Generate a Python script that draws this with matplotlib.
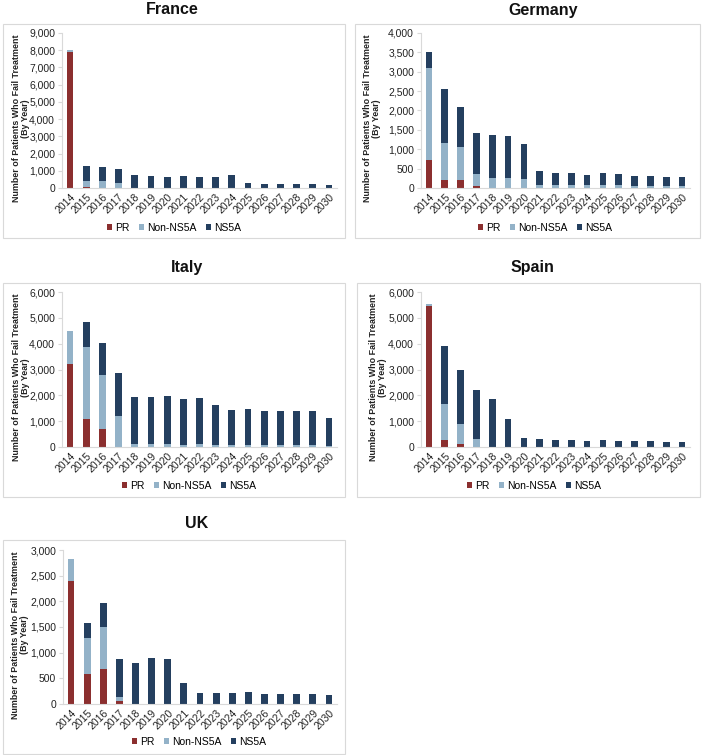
import matplotlib
matplotlib.use("Agg")
import matplotlib.pyplot as plt
from matplotlib.patches import Rectangle
from matplotlib.ticker import FuncFormatter, MultipleLocator

plt.rcParams['font.family'] = ['Liberation Sans', 'DejaVu Sans']

years = [str(y) for y in range(2014, 2031)]
series_names = ["PR", "Non-NS5A", "NS5A"]
colors = ["#8B2F2F", "#93B2C8", "#243F5F"]

france_pr = [7900, 50, 0, 0, 0, 0, 0, 0, 0, 0, 0, 0, 0, 0, 0, 0, 0]
france_non = [100, 350, 380, 270, 20, 20, 20, 20, 20, 20, 20, 10, 10, 10, 10, 10, 10]
france_ns5a = [0, 900, 850, 810, 760, 700, 640, 650, 620, 640, 720, 260, 240, 240, 200, 200, 190]

germany_pr = [730, 200, 210, 40, 0, 0, 0, 0, 0, 0, 0, 0, 0, 0, 0, 0, 0]
germany_non = [2370, 950, 850, 330, 270, 270, 240, 80, 80, 80, 70, 80, 70, 60, 60, 50, 50]
germany_ns5a = [400, 1400, 1030, 1050, 1090, 1060, 900, 350, 300, 300, 270, 300, 290, 260, 250, 240, 240]

italy_pr = [3200, 1080, 700, 0, 0, 0, 0, 0, 0, 0, 0, 0, 0, 0, 0, 0, 0]
italy_non = [1300, 2780, 2100, 1190, 100, 130, 100, 90, 100, 70, 60, 60, 60, 70, 60, 60, 50]
italy_ns5a = [0, 970, 1220, 1690, 1830, 1790, 1860, 1780, 1810, 1540, 1360, 1420, 1320, 1320, 1330, 1330, 1080]

spain_pr = [5450, 260, 100, 0, 0, 0, 0, 0, 0, 0, 0, 0, 0, 0, 0, 0, 0]
spain_non = [100, 1400, 780, 320, 0, 0, 0, 0, 0, 0, 0, 0, 0, 0, 0, 0, 0]
spain_ns5a = [0, 2250, 2090, 1900, 1840, 1100, 360, 320, 270, 270, 250, 270, 240, 230, 230, 210, 200]

uk_pr = [2400, 580, 680, 60, 0, 0, 0, 0, 0, 0, 0, 0, 0, 0, 0, 0, 0]
uk_non = [420, 700, 820, 80, 0, 0, 0, 0, 0, 0, 0, 0, 0, 0, 0, 0, 0]
uk_ns5a = [0, 290, 460, 730, 790, 890, 870, 410, 220, 210, 210, 230, 200, 190, 190, 190, 170]

W, H = 703, 755
fig = plt.figure(figsize=(W / 100, H / 100), dpi=100)

panels = [
    # name, data, ymax, ystep, axes px (l, r, top, bottom), box px (l, r, top, bottom),
    # title (x, y), legend y, ylabel right edge x
    ("France", (france_pr, france_non, france_ns5a), 9000, 1000, (62, 337, 33, 188), (3, 345, 24, 238), (172, 10), 228, 30),
    ("Germany", (germany_pr, germany_non, germany_ns5a), 4000, 500, (421, 690, 33, 188), (355, 700, 24, 238), (543, 10), 228, 381),
    ("Italy", (italy_pr, italy_non, italy_ns5a), 6000, 1000, (62, 337, 292, 447), (3, 345, 283, 497), (187, 268), 486, 30),
    ("Spain", (spain_pr, spain_non, spain_ns5a), 6000, 1000, (421, 690, 292, 447), (357, 700, 283, 497), (532, 268), 486, 387),
    ("UK", (uk_pr, uk_non, uk_ns5a), 3000, 500, (63, 337, 550, 704), (3, 345, 540, 754), (197, 523), 742, 29),
]

fmt = FuncFormatter(lambda v, p: f"{int(v):,}")

for name, data, ymax, ystep, (l, r, t, b), (bl, br, bt, bb), (tx, ty), ly, labx in panels:
    fig.patches.append(Rectangle((bl / W, 1 - bb / H), (br - bl) / W, (bb - bt) / H,
                                 transform=fig.transFigure, fill=False,
                                 edgecolor="#d9d9d9", linewidth=0.8))
    ax = fig.add_axes([l / W, 1 - b / H, (r - l) / W, (b - t) / H])
    x = list(range(len(years)))
    bottom = [0] * len(years)
    for vals, c, lab in zip(data, colors, series_names):
        ax.bar(x, vals, width=0.42, bottom=bottom, color=c, label=lab, linewidth=0)
        bottom = [a + v for a, v in zip(bottom, vals)]
    ax.set_xlim(-0.5, len(years) - 0.5)
    ax.set_ylim(0, ymax)
    ax.yaxis.set_major_locator(MultipleLocator(ystep))
    ax.yaxis.set_major_formatter(fmt)
    ax.set_xticks(x)
    ax.set_xticklabels(years, rotation=45, ha="right", rotation_mode="anchor")
    ax.tick_params(axis="x", length=0, labelsize=7.5, colors="#222222", pad=3)
    ax.tick_params(axis="y", length=3, direction="out", labelsize=7.5, colors="#222222",
                   color="#d9d9d9", pad=2)
    for s in ("top", "right"):
        ax.spines[s].set_visible(False)
    for s in ("left", "bottom"):
        ax.spines[s].set_color("#d9d9d9")
        ax.spines[s].set_linewidth(0.8)
    ax.set_ylabel("Number of Patients Who Fail Treatment\n(By Year)", fontsize=6.4,
                  fontweight="bold", color="#222222", linespacing=1.0)
    ax.yaxis.set_label_coords((labx - l) / (r - l), 0.45)
    fig.text(tx / W, 1 - ty / H, name, ha="center", va="center", fontsize=11.5,
             fontweight="bold", color="#111111")
    fig.legend(*ax.get_legend_handles_labels(), loc="center",
               bbox_to_anchor=((tx + 2) / W, 1 - ly / H),
               ncol=3, frameon=False, fontsize=7.5, handlelength=0.5, handleheight=0.5,
               handletextpad=0.3, columnspacing=0.9, borderaxespad=0)

fig.savefig("out.png", dpi=100)
